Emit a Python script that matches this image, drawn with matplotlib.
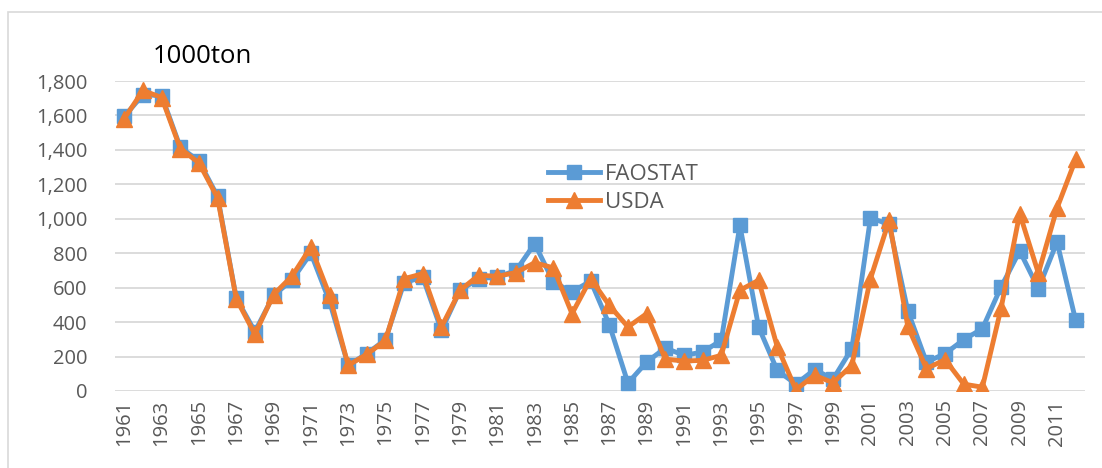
import matplotlib
matplotlib.use("Agg")
import matplotlib.pyplot as plt
from matplotlib.patches import Rectangle
from matplotlib.ticker import FuncFormatter

years = list(range(1961, 2013))
faostat = [1595, 1720, 1715, 1415, 1335, 1130, 540, 345, 555, 645,
           800, 520, 150, 217, 298, 630, 660, 352, 585, 652,
           662, 700, 856, 633, 575, 639, 385, 46, 168, 250,
           207, 226, 294, 962, 372, 120, 40, 124, 70, 246,
           1005, 968, 465, 168, 217, 298, 362, 604, 813, 594,
           865, 410]
usda = [1582, 1745, 1704, 1408, 1324, 1121, 536, 329, 560, 668,
        836, 556, 149, 213, 294, 652, 681, 372, 585, 672,
        666, 688, 745, 715, 449, 652, 497, 372, 449, 185,
        174, 178, 207, 585, 643, 258, 8, 91, 48, 149,
        652, 991, 375, 130, 182, 40, 22, 480, 1030, 684,
        1062, 1345]
xlabels = [str(y) if (y - 1961) % 2 == 0 else "" for y in years]

plt.rcParams['font.family'] = ['Open Sans', 'DejaVu Sans']

fig = plt.figure(figsize=(11.02, 4.68), dpi=100)
fig.patches.append(Rectangle((8/1102, -0.05), 1.2, 1 - 12/468 + 0.05,
                             transform=fig.transFigure, fill=False,
                             edgecolor='#D9D9D9', linewidth=1.2))
ax = fig.add_axes([115/1102, 77/468, 970/1102, 310/468])

x = list(range(len(years)))
ax.plot(x, faostat, color='#5B9BD5', lw=3.5, marker='s', ms=9.5,
        label='FAOSTAT', zorder=3)
ax.plot(x, usda, color='#ED7D31', lw=3.5, marker='^', ms=11,
        label='USDA', zorder=4)

ax.set_xlim(-0.5, len(years) - 0.5)
ax.set_ylim(0, 1800)
ax.set_yticks(range(0, 1801, 200))
ax.yaxis.set_major_formatter(FuncFormatter(lambda v, p: f"{int(v):,}"))
ax.set_xticks(x)
ax.set_xticklabels(xlabels, rotation=90)
ax.tick_params(axis='both', length=0, labelsize=14.5, labelcolor='#595959')
ax.tick_params(axis='y', pad=20)
ax.tick_params(axis='x', pad=6)
ax.grid(axis='y', color='#D9D9D9', lw=1.3)
ax.set_axisbelow(True)
for s in ax.spines.values():
    s.set_visible(False)

ax.legend(loc='upper left', bbox_to_anchor=((548 - 115) / 970, (391 - 164) / 310),
          frameon=False, fontsize=16, handlelength=2.35, handletextpad=0.2,
          borderpad=0, borderaxespad=0, labelspacing=0.3, labelcolor='#595959')

fig.text(153/1102, 1 - 63/468, "1000ton", fontsize=18.5, va='baseline', ha='left')

fig.savefig("out.png", dpi=100)
